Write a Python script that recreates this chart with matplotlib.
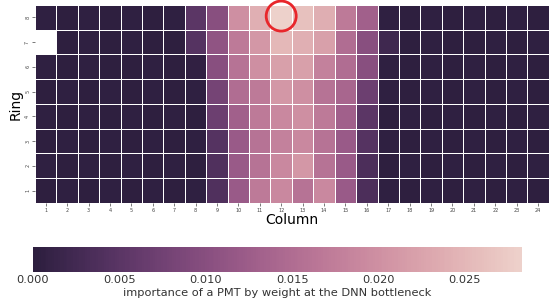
import numpy as np
import matplotlib
matplotlib.use("Agg")
import matplotlib.pyplot as plt
from matplotlib.patches import Ellipse
import seaborn as sns

columns = list(range(1, 25))
rings = [8, 7, 6, 5, 4, 3, 2, 1]

# importance values per ring (columns 1..24)
ring8 = [0.0004, 0.0003, 0.0004, 0.0003, 0.0004, 0.0003, 0.0004, 0.0050, 0.0100, 0.0200, 0.0240, 0.0283,
         0.0262, 0.0238, 0.0170, 0.0130, 0.0004, 0.0003, 0.0004, 0.0003, 0.0004, 0.0003, 0.0004, 0.0003]
ring7 = [np.nan, 0.0003, 0.0004, 0.0003, 0.0004, 0.0003, 0.0003, 0.0045, 0.0110, 0.0170, 0.0210, 0.0250,
         0.0240, 0.0220, 0.0150, 0.0100, 0.0020, 0.0003, 0.0004, 0.0003, 0.0003, 0.0004, 0.0003, 0.0004]
ring6 = [0.0004, 0.0003, 0.0004, 0.0003, 0.0003, 0.0004, 0.0003, 0.0005, 0.0100, 0.0160, 0.0200, 0.0220,
         0.0220, 0.0180, 0.0150, 0.0100, 0.0004, 0.0003, 0.0004, 0.0003, 0.0004, 0.0003, 0.0004, 0.0003]
ring5 = [0.0003, 0.0004, 0.0003, 0.0004, 0.0003, 0.0004, 0.0003, 0.0004, 0.0080, 0.0150, 0.0170, 0.0210,
         0.0200, 0.0160, 0.0140, 0.0070, 0.0004, 0.0003, 0.0004, 0.0003, 0.0004, 0.0003, 0.0004, 0.0003]
ring4 = [0.0004, 0.0003, 0.0004, 0.0003, 0.0004, 0.0003, 0.0004, 0.0003, 0.0070, 0.0130, 0.0170, 0.0190,
         0.0200, 0.0170, 0.0130, 0.0050, 0.0003, 0.0004, 0.0003, 0.0004, 0.0003, 0.0004, 0.0003, 0.0004]
ring3 = [0.0003, 0.0004, 0.0003, 0.0004, 0.0003, 0.0004, 0.0003, 0.0004, 0.0045, 0.0120, 0.0160, 0.0180,
         0.0190, 0.0160, 0.0120, 0.0045, 0.0004, 0.0003, 0.0004, 0.0003, 0.0004, 0.0003, 0.0004, 0.0003]
ring2 = [0.0004, 0.0003, 0.0004, 0.0003, 0.0004, 0.0003, 0.0004, 0.0003, 0.0040, 0.0120, 0.0160, 0.0190,
         0.0210, 0.0160, 0.0120, 0.0035, 0.0003, 0.0004, 0.0003, 0.0004, 0.0003, 0.0004, 0.0003, 0.0004]
ring1 = [0.0003, 0.0004, 0.0003, 0.0004, 0.0003, 0.0004, 0.0003, 0.0004, 0.0040, 0.0120, 0.0170, 0.0190,
         0.0160, 0.0190, 0.0120, 0.0035, 0.0004, 0.0003, 0.0004, 0.0003, 0.0004, 0.0003, 0.0004, 0.0003]

data = np.array([ring8, ring7, ring6, ring5, ring4, ring3, ring2, ring1])

fig = plt.figure(figsize=(5.51, 3.08), dpi=100)
ax = fig.add_axes([0.0635, 0.341, 0.9325, 0.643])
cax = fig.add_axes([0.060, 0.117, 0.887, 0.081])

cmap = sns.cubehelix_palette(as_cmap=True, reverse=True)
sns.heatmap(data, ax=ax, cmap=cmap, vmin=0, vmax=0.0283,
            linewidths=0.6, linecolor='white',
            xticklabels=columns, yticklabels=rings,
            cbar_ax=cax, cbar_kws={'orientation': 'horizontal'})

ax.tick_params(axis='both', labelsize=3.5, length=2, width=0.5, colors='#444444', pad=1.5)
plt.setp(ax.get_yticklabels(), rotation=90, va='center')
plt.setp(ax.get_xticklabels(), rotation=0)
ax.set_xlabel('Column', fontsize=10, labelpad=0)
ax.set_ylabel('Ring', fontsize=10, labelpad=2)

# red circle around the brightest PMT
ax.add_patch(Ellipse((11.5, 0.45), 30 / 21.4, 30 / 24.75, fill=False,
                     edgecolor='#e8262b', linewidth=2, clip_on=False))

cax.tick_params(labelsize=8.2, length=0, pad=2)
cax.set_xticks([0.0, 0.005, 0.010, 0.015, 0.020, 0.025])
cax.set_xticklabels(['0.000', '0.005', '0.010', '0.015', '0.020', '0.025'], color='#333333')
cax.set_xlabel('importance of a PMT by weight at the DNN bottleneck', fontsize=8.2,
               labelpad=2, color='#333333')
for s in cax.spines.values():
    s.set_visible(False)

fig.savefig('out.png', dpi=100)
